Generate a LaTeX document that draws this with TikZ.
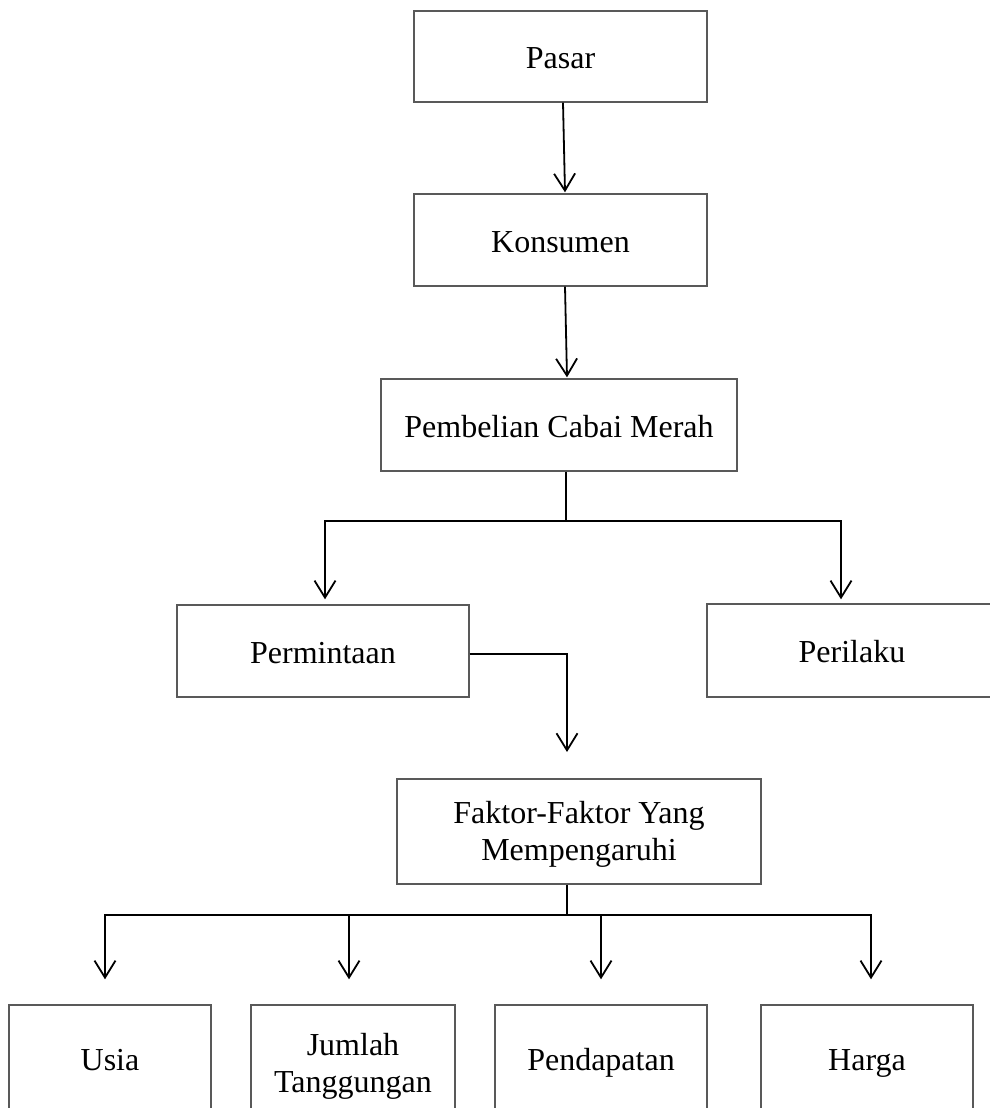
\documentclass[tikz,border=0pt]{standalone}
\usepackage{fontspec}
\setmainfont{Liberation Serif}
\usetikzlibrary{arrows.meta}
\begin{document}
\begin{tikzpicture}[x=1pt,y=-1pt,
  box/.style={draw=black!65,line width=1.4pt,inner sep=0pt,align=center,
    font=\fontsize{32}{37}\selectfont},
  one/.style={box,text height=24pt,text depth=0pt},
  txt/.style={inner sep=0pt,align=center,font=\fontsize{32}{37}\selectfont},
  arr/.style={draw=black,line width=1.8pt,-{Straight Barb[length=17pt,width=21pt,line width=1.8pt]}},
  ln/.style={draw=black,line width=1.8pt}]
\useasboundingbox (0,0) rectangle (989,1108);
\node[one,minimum width=293pt,minimum height=91pt] (pasar) at (560.5,56.5) {Pasar};
\node[one,minimum width=293pt,minimum height=92pt] (kons) at (560.5,240) {Konsumen};
\node[one,minimum width=356pt,minimum height=92pt] (beli) at (559,425) {Pembelian Cabai Merah};
\node[one,minimum width=292pt,minimum height=92pt] (minta) at (323,651) {Permintaan};
\node[one,minimum width=290pt,minimum height=93pt] (perilaku) at (852,650.5) {Perilaku};
\node[box,minimum width=364pt,minimum height=105pt] (faktor) at (579,831.5) {};
\node[txt] (faktortext) at ([yshift=-3pt]faktor.center) {Faktor-Faktor Yang\\Mempengaruhi};
\node[one,minimum width=202pt,minimum height=106pt] (usia) at (110,1058) {Usia};
\node[box,minimum width=204pt,minimum height=106pt] (jumlah) at (353,1058) {};
\node[txt] (jumlahtext) at ([yshift=-8pt]jumlah.center) {Jumlah\\Tanggungan};
\node[one,minimum width=212pt,minimum height=106pt] (pend) at (601,1058) {Pendapatan};
\node[one,minimum width=212pt,minimum height=106pt] (harga) at (867,1058) {Harga};
% connectors
\draw[arr] ([xshift=2.5pt]pasar.south) -- ([xshift=4.5pt,yshift=1pt]kons.north);
\draw[arr] ([xshift=4.5pt]kons.south) -- ([xshift=8pt,yshift=1pt]beli.north);
\coordinate (split1) at (566,521);
\draw[ln] ([xshift=7pt]beli.south) -- (split1);
\draw[arr] (split1) -| ([xshift=2pt,yshift=5pt]minta.north);
\draw[arr] (split1) -| ([xshift=-11pt,yshift=4pt]perilaku.north);
\coordinate (faktorin) at (567,752);
\draw[arr] ([yshift=-3pt]minta.east) -| (faktorin);
\coordinate (split2) at (567,915);
\draw[ln] (faktor.south -| split2) -- (split2);
\draw[arr] (split2) -| ([xshift=-5pt,yshift=25pt]usia.north);
\draw[arr] (split2) -| ([xshift=-4pt,yshift=25pt]jumlah.north);
\draw[arr] (split2) -| ([yshift=25pt]pend.north);
\draw[arr] (split2) -| ([xshift=4pt,yshift=25pt]harga.north);
\end{tikzpicture}
\end{document}
